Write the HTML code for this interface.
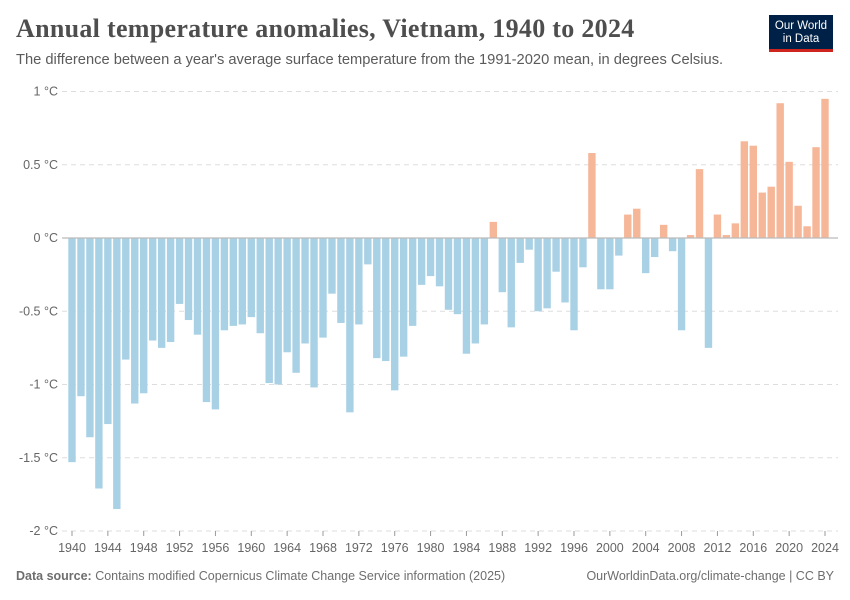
<!DOCTYPE html>
<html><head><meta charset="utf-8"><style>
body{margin:0;background:#fff;font-family:"Liberation Sans",sans-serif;}
#wrap{position:relative;width:850px;height:600px;overflow:hidden;}
.title{position:absolute;left:16px;top:14px;font-family:"Liberation Serif",serif;font-size:26px;font-weight:bold;color:#4e4e4e;letter-spacing:0.3px}
.sub{position:absolute;left:16px;top:52px;font-size:14.7px;color:#5b5b5b}
.logo{position:absolute;left:769px;top:15px;width:64px;height:37px;background:#002147;border-bottom:3px solid #ce261e;box-sizing:border-box;color:#fff;font-size:11.5px;text-align:center;line-height:13px;padding-top:5px}
.foot{position:absolute;top:569px;font-size:12.5px;color:#6e6e6e}
</style></head><body>
<div id="wrap">
<div class="title">Annual temperature anomalies, Vietnam, 1940 to 2024</div>
<div class="sub">The difference between a year's average surface temperature from the 1991-2020 mean, in degrees Celsius.</div>
<div class="logo">Our World<br>in Data</div>
<svg id="chart" width="850" height="600" style="position:absolute;left:0;top:0"></svg>
<div class="foot" style="left:16px"><b>Data source:</b> Contains modified Copernicus Climate Change Service information (2025)</div>
<div class="foot" style="right:16px">OurWorldinData.org/climate-change | CC BY</div>
</div>
<script>
const startYear = 1940;
const values = [-1.53,-1.08,-1.36,-1.71,-1.27,-1.85,-0.83,-1.13,-1.06,-0.70,
-0.75,-0.71,-0.45,-0.56,-0.66,-1.12,-1.17,-0.63,-0.60,-0.59,
-0.54,-0.65,-0.99,-1.00,-0.78,-0.92,-0.72,-1.02,-0.68,-0.38,
-0.58,-1.19,-0.59,-0.18,-0.82,-0.84,-1.04,-0.81,-0.60,-0.32,
-0.26,-0.33,-0.49,-0.52,-0.79,-0.72,-0.59,0.11,-0.37,-0.61,
-0.17,-0.08,-0.50,-0.48,-0.23,-0.44,-0.63,-0.20,0.58,-0.35,
-0.35,-0.12,0.16,0.20,-0.24,-0.13,0.09,-0.09,-0.63,0.02,
0.47,-0.75,0.16,0.02,0.10,0.66,0.63,0.31,0.35,0.92,
0.52,0.22,0.08,0.62,0.95];
const yTicks = [1,0.5,0,-0.5,-1,-1.5,-2];
const yTickLabels = ["1 °C","0.5 °C","0 °C","-0.5 °C","-1 °C","-1.5 °C","-2 °C"];
const xTicks = [1940,1944,1948,1952,1956,1960,1964,1968,1972,1976,1980,1984,1988,1992,1996,2000,2004,2008,2012,2016,2020,2024];

const NS="http://www.w3.org/2000/svg";
const svg=document.getElementById('chart');
const y=v=>238-v*146.5;
const x=yr=>72+(yr-1940)*(825-72)/84;
function mk(t,a){const e=document.createElementNS(NS,t);for(const k in a)e.setAttribute(k,a[k]);svg.appendChild(e);return e;}
yTicks.forEach((t,i)=>{
  if(t!==0){const l=mk('line',{x1:62,x2:838,y1:y(t),y2:y(t),stroke:'#dddddd','stroke-dasharray':'5,4'});
  
  }
  const tx=mk('text',{x:58,y:y(t)+4,'text-anchor':'end','font-size':12.5,fill:'#666','font-family':'Liberation Sans, sans-serif'});
  tx.textContent=yTickLabels[i];
  
  
});
values.forEach((v,i)=>{
  const yr=startYear+i;
  const r=mk('rect',{x:x(yr)-3.7,width:7.4,y:Math.min(y(v),y(0)),height:Math.abs(y(v)-y(0)),fill:v>=0?'#f6b698':'#a9d1e5'});
  
  
});
const z=mk('line',{x1:62,x2:838,y1:y(0),y2:y(0),stroke:'#bbbbbb','stroke-width':1.2});


xTicks.forEach(t=>{
  const tk=mk('line',{x1:x(t),x2:x(t),y1:y(-2),y2:y(-2)+5,stroke:'#999'});
  
  
  const tx=mk('text',{x:x(t),y:552,'text-anchor':'middle','font-size':12.5,fill:'#666','font-family':'Liberation Sans, sans-serif'});
  tx.textContent=t;
  
  
});
</script>
</body></html>
